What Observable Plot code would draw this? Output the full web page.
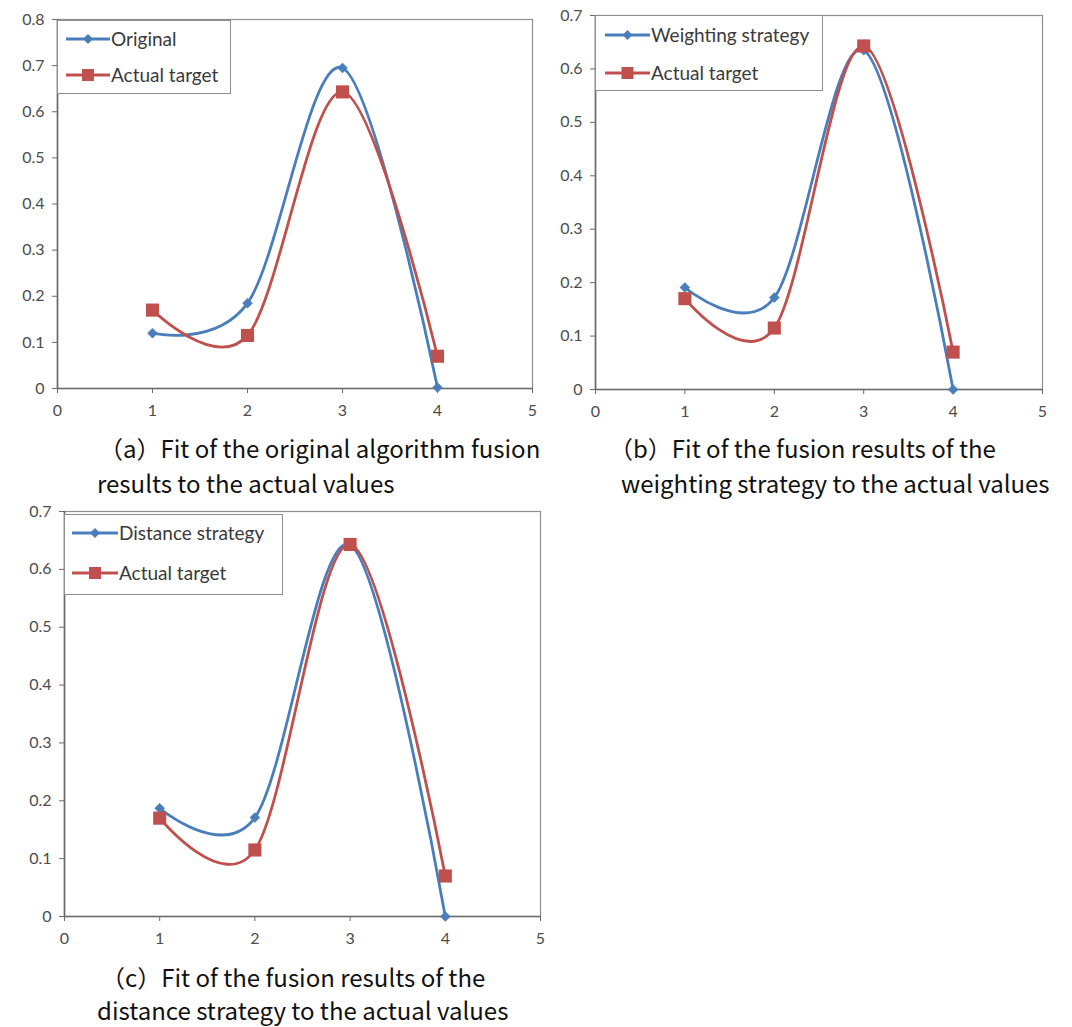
<!DOCTYPE html>
<html>
<head>
<meta charset="utf-8">
<script src="https://cdn.jsdelivr.net/npm/d3@7"></script>
<script src="https://cdn.jsdelivr.net/npm/@observablehq/plot@0.6"></script>
<style>
  body { margin: 0; background: #fff; }
  #root { position: relative; width: 1072px; height: 1027px; overflow: hidden; background: #fff; }
  .panel { position: absolute; }
  .cap { position: absolute; font-family: "Noto Sans CJK SC", "Noto Sans", sans-serif; font-size: 24px; color: #111; white-space: nowrap; line-height: 28px; }
  .legend { position: absolute; }
</style>
</head>
<body>
<div id="root"></div>
<script>
// ---- data ----
const xValues = [1, 2, 3, 4];
const actualTarget = [0.17, 0.115, 0.643, 0.07];
const originalFusion = [0.12, 0.185, 0.695, 0.002];
const weightingFusion = [0.191, 0.172, 0.635, 0.0];
const distanceFusion = [0.187, 0.171, 0.642, 0.0];
const xTicks = [0, 1, 2, 3, 4, 5];
const yTicksA = [0, 0.1, 0.2, 0.3, 0.4, 0.5, 0.6, 0.7, 0.8];
const yTicksBC = [0, 0.1, 0.2, 0.3, 0.4, 0.5, 0.6, 0.7];
const seriesNames = ["Original", "Weighting strategy", "Distance strategy"];
const targetName = "Actual target";
const captionsA = ["（a）Fit of the original algorithm fusion", "results to the actual values"];
const captionsB = ["（b）Fit of the fusion results of the", "weighting strategy to the actual values"];
const captionsC = ["（c）Fit of the fusion results of the", "distance strategy to the actual values"];

const BLUE = "#4A7EBB";
const RED = "#C0504D";
const smooth = d3.curveCardinal.tension(0);
const root = document.getElementById("root");

function rows(values) { return xValues.map((x, i) => ({x, y: values[i]})); }

function drawPanel(cfg) {
  const blue = rows(cfg.values);
  const red = rows(actualTarget);
  const chart = Plot.plot({
    width: cfg.width, height: cfg.height,
    marginLeft: cfg.mL, marginRight: cfg.mR, marginTop: cfg.mT, marginBottom: cfg.mB,
    x: {domain: [0, 5]},
    y: {domain: [0, cfg.yMax]},
    style: {fontFamily: "Lato, sans-serif", fontSize: "16px", color: "#4d4d4d", background: "transparent", overflow: "visible"},
    marks: [
      Plot.frame({stroke: "#8e8e8e", strokeWidth: 1.2}),
      Plot.ruleY([0], {stroke: "#6a6a6a", strokeWidth: 1.6}),
      Plot.ruleX([0], {stroke: "#6a6a6a", strokeWidth: 1.6}),
      Plot.axisX({ticks: xTicks, label: null, tickSize: 5, tickPadding: 11, tickFormat: d => String(d), stroke: "#6a6a6a", fill: "#4d4d4d"}),
      Plot.axisY({ticks: cfg.yTicks, label: null, tickSize: 5, tickPadding: 8, tickFormat: d => d === 0 ? "0" : d.toFixed(1), stroke: "#6a6a6a", fill: "#4d4d4d"}),
      Plot.line(blue, {x: "x", y: "y", curve: smooth, stroke: BLUE, strokeWidth: 2.8}),
      Plot.dot(blue, {x: "x", y: "y", symbol: "diamond2", r: 4.5, fill: BLUE, stroke: BLUE, strokeWidth: 0.5}),
      Plot.line(red, {x: "x", y: "y", curve: smooth, stroke: RED, strokeWidth: 2.8}),
      Plot.dot(red, {x: "x", y: "y", symbol: "square", r: 7.4, fill: RED, stroke: "none"})
    ]
  });
  chart.classList.add("panel");
  chart.style.left = cfg.left + "px";
  chart.style.top = cfg.top + "px";
  root.appendChild(chart);

  // legend box
  const L = cfg.legend;
  const ns = "http://www.w3.org/2000/svg";
  const svg = document.createElementNS(ns, "svg");
  svg.setAttribute("width", L.w + 2);
  svg.setAttribute("height", L.h + 2);
  svg.setAttribute("class", "legend");
  svg.style.left = L.x + "px";
  svg.style.top = L.y + "px";
  const items = [
    {name: cfg.name, color: BLUE, sym: "diamond", ry: L.r1},
    {name: targetName, color: RED, sym: "square", ry: L.r2}
  ];
  let html = `<rect x="0.5" y="0.5" width="${L.w}" height="${L.h}" fill="#fff" stroke="#8e8e8e" stroke-width="1"/>`;
  for (const it of items) {
    const cx = (L.s0 + L.s1) / 2;
    html += `<line x1="${L.s0}" x2="${L.s1}" y1="${it.ry}" y2="${it.ry}" stroke="${it.color}" stroke-width="2.8"/>`;
    if (it.sym === "diamond") {
      html += `<path d="M${cx},${it.ry - 5}L${cx + 5},${it.ry}L${cx},${it.ry + 5}L${cx - 5},${it.ry}Z" fill="${it.color}"/>`;
    } else {
      html += `<rect x="${cx - 6}" y="${it.ry - 6}" width="12" height="12" fill="${it.color}"/>`;
    }
    html += `<text x="${L.s1 + 1}" y="${it.ry}" dy="0.35em" font-family="Lato, sans-serif" font-size="19" fill="#3a3a3a">${it.name}</text>`;
  }
  svg.innerHTML = html;
  root.appendChild(svg);

  // captions
  cfg.captions.forEach((t, i) => {
    const d = document.createElement("div");
    d.className = "cap";
    d.textContent = t;
    d.style.left = cfg.capLeft[i] + "px";
    d.style.top = (cfg.capY[i] - 14) + "px";
    root.appendChild(d);
  });
}

drawPanel({
  left: 0, top: 0, width: 545, height: 430, mL: 57, mR: 13, mT: 19, mB: 42,
  yMax: 0.8, yTicks: yTicksA, values: originalFusion, name: seriesNames[0],
  legend: {x: 57, y: 20, w: 173, h: 73, r1: 19, r2: 55, s0: 9, s1: 53},
  captions: captionsA, capLeft: [99, 97], capY: [448, 483]
});
drawPanel({
  left: 545, top: 0, width: 520, height: 430, mL: 50, mR: 23, mT: 15, mB: 41,
  yMax: 0.7, yTicks: yTicksBC, values: weightingFusion, name: seriesNames[1],
  legend: {x: 595, y: 15, w: 227, h: 75, r1: 20, r2: 58, s0: 10, s1: 55},
  captions: captionsB, capLeft: [609, 621], capY: [448, 483]
});
drawPanel({
  left: 0, top: 495, width: 560, height: 455, mL: 64, mR: 20, mT: 16, mB: 34,
  yMax: 0.7, yTicks: yTicksBC, values: distanceFusion, name: seriesNames[2],
  legend: {x: 64, y: 514, w: 218, h: 80, r1: 19, r2: 59, s0: 8, s1: 54},
  captions: captionsC, capLeft: [101, 97], capY: [977, 1010]
});
</script>
</body>
</html>
